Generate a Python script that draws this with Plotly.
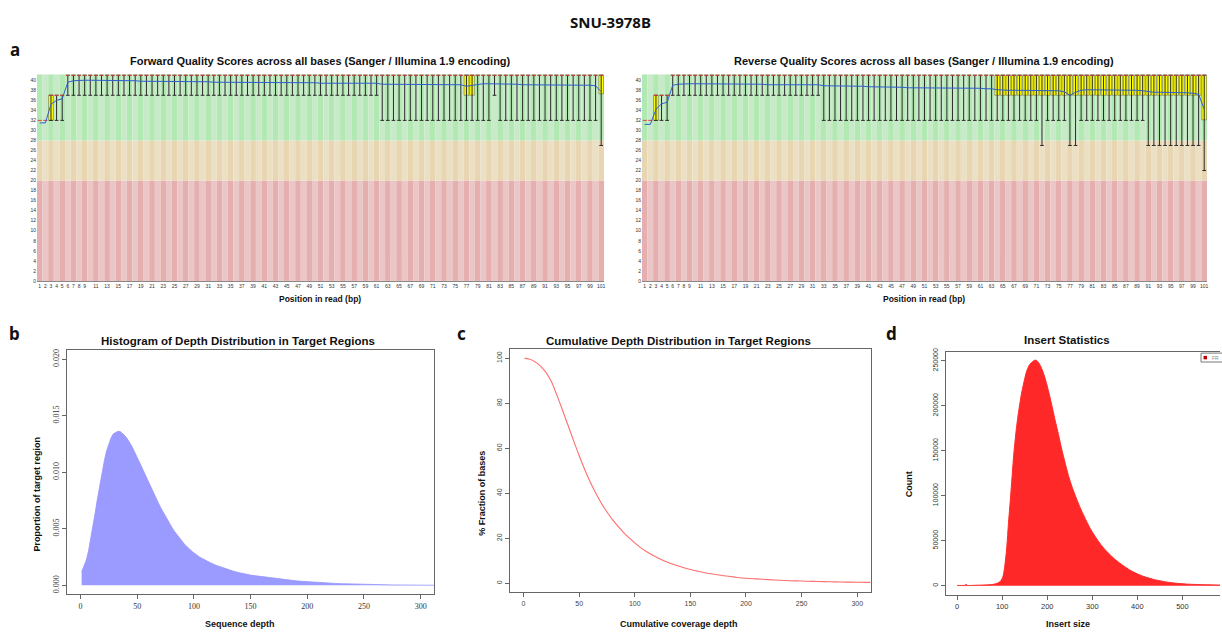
import plotly.graph_objects as go

W, H = 1222, 635

# ---------------- Panel a data (FastQC per-base quality) ----------------
positions = list(range(1, 102))
pos_tick_vals = list(range(1, 10)) + list(range(11, 102, 2))
pos_tick_text = [str(v) for v in pos_tick_vals]
quality_ticks = list(range(0, 41, 2))
zone_edges = [0, 20, 28, 41.2]

fwd_lower = [32] * 5 + [37] * 56 + [32] * 20 + [37] + [32] * 18 + [27]
fwd_upper = [32, 32] + [37] * 3 + [41] * 96
fwd_q1 = [32, 32, 32, 37, 37] + [41] * 71 + [37, 37] + [41] * 22 + [37.3]
fwd_q3 = [32, 32, 37, 37, 37] + [41] * 96
fwd_median = [32, 32, 37, 37, 37] + [41] * 96
fwd_mean = [31.5, 31.5, 35.2, 36.0, 36.3, 39.6, 39.9, 40.0, 40.0, 40.0,
            40.0, 40.0, 40.0, 39.9, 39.9, 39.9, 39.9, 39.9, 39.8, 39.8,
            39.8, 39.8, 39.8, 39.8, 39.8, 39.7, 39.7, 39.7, 39.7, 39.7,
            39.7, 39.6, 39.6, 39.6, 39.6, 39.6, 39.6, 39.6, 39.6, 39.5,
            39.5, 39.5, 39.5, 39.5, 39.5, 39.5, 39.5, 39.5, 39.5, 39.5,
            39.4, 39.4, 39.4, 39.4, 39.4, 39.4, 39.4, 39.4, 39.4, 39.4,
            39.4, 39.2, 39.2, 39.2, 39.2, 39.2, 39.2, 39.2, 39.2, 39.2,
            39.2, 39.2, 39.2, 39.2, 39.1, 39.1, 38.8, 39.0, 39.2, 39.3,
            39.3, 39.3, 39.3, 39.2, 39.2, 39.2, 39.1, 39.1, 39.1, 39.1,
            39.1, 39.1, 39.1, 39.1, 39.1, 39.1, 39.1, 39.0, 39.0, 38.9,
            37.7]

rev_lower = [32] * 5 + [37] * 27 + [32] * 39 + [27] + [32] * 4 + [27, 27] + [32] * 12 + [27] * 10 + [22]
rev_upper = [32, 32] + [37] * 3 + [41] * 96
rev_q1 = [32, 32, 32, 37, 37] + [41] * 58 + [37] * 37 + [32.1]
rev_q3 = [32, 32, 37, 37, 37] + [41] * 96
rev_median = [32, 32, 37, 37, 37] + [41] * 96
rev_mean = [31.2, 31.2, 34.2, 35.3, 35.6, 39.0, 39.2, 39.3, 39.3, 39.3,
            39.3, 39.3, 39.3, 39.3, 39.3, 39.2, 39.2, 39.2, 39.2, 39.2,
            39.2, 39.2, 39.1, 39.1, 39.1, 39.1, 39.1, 39.1, 39.1, 39.1,
            39.1, 39.1, 38.9, 38.9, 38.8, 38.8, 38.8, 38.8, 38.8, 38.8,
            38.7, 38.7, 38.7, 38.7, 38.7, 38.6, 38.6, 38.5, 38.5, 38.5,
            38.5, 38.5, 38.5, 38.5, 38.5, 38.4, 38.4, 38.4, 38.4, 38.4,
            38.4, 38.3, 38.3, 38.1, 38.0, 38.0, 38.0, 38.0, 38.0, 38.0,
            37.9, 37.9, 37.9, 37.9, 37.9, 37.7, 37.0, 37.6, 38.0, 38.1,
            38.1, 38.1, 38.1, 38.1, 38.1, 38.1, 38.0, 38.0, 38.0, 37.9,
            37.7, 37.6, 37.6, 37.6, 37.5, 37.5, 37.5, 37.5, 37.4, 37.2,
            34.2]

# ---------------- Panel b data (depth histogram) ----------------
depth_b = [1, 3, 5, 7, 9, 11, 13, 15, 17, 19, 21, 23, 25, 27, 29, 31, 33, 35, 37, 39,
           41, 43, 45, 47, 49, 51, 53, 55, 57, 59, 61, 63, 65, 67, 69, 71, 73, 75, 77, 79,
           81, 83, 85, 87, 89, 91, 93, 95, 97, 99, 105, 110, 115, 120, 125, 130, 135, 140,
           145, 150, 155, 160, 165, 170, 175, 180, 185, 190, 195, 200, 205, 210, 215, 220,
           225, 230, 235, 240, 245, 250, 255, 260, 265, 270, 275, 280, 285, 290, 295, 300,
           305, 310, 312]
prop_b = [0.00120, 0.00165, 0.00220, 0.00300, 0.00405, 0.00525, 0.00645, 0.00770, 0.00890, 0.01000,
          0.01100, 0.01190, 0.01255, 0.01305, 0.01340, 0.01355, 0.01362, 0.01360, 0.01345, 0.01325,
          0.01300, 0.01270, 0.01235, 0.01195, 0.01155, 0.01115, 0.01070, 0.01025, 0.00980, 0.00935,
          0.00890, 0.00848, 0.00805, 0.00763, 0.00722, 0.00683, 0.00645, 0.00608, 0.00572, 0.00538,
          0.00506, 0.00476, 0.00448, 0.00421, 0.00396, 0.00373, 0.00351, 0.00331, 0.00312, 0.00295,
          0.00250, 0.00222, 0.00197, 0.00176, 0.00157, 0.00140, 0.00125, 0.00112,
          0.00100, 0.00091, 0.00084, 0.00077, 0.00070, 0.00063, 0.00056, 0.00050, 0.00045, 0.00040,
          0.00036, 0.00032, 0.00028, 0.00025, 0.00022, 0.00019,
          0.00017, 0.00015, 0.00013, 0.00011, 0.00010, 0.00009, 0.00008, 0.00007, 0.00006, 0.00005,
          0.00004, 0.00004, 0.00003, 0.00003, 0.00002, 0.00002, 0.00002, 0.00001, 0.00001]
b_xticks = [0, 50, 100, 150, 200, 250, 300]
b_yticks = [0, 0.005, 0.010, 0.015, 0.020]
b_ytext = ["0.000", "0.005", "0.010", "0.015", "0.020"]

# ---------------- Panel c data (cumulative depth) ----------------
depth_c = [1, 5, 10, 15, 20, 25, 30, 35, 40, 45, 50, 55, 60, 65, 70, 75, 80, 85, 90, 95,
           100, 105, 110, 120, 130, 140, 150, 160, 170, 180, 190, 200, 210, 220, 230, 240, 250,
           260, 270, 280, 290, 300, 312]
pct_c = [100.0, 99.6, 98.5, 96.6, 93.8, 89.6, 83.6, 77.0, 70.2, 63.4, 56.8, 50.6, 45.0, 40.0,
         35.6, 31.7, 28.3, 25.3, 22.6, 20.2, 18.0, 16.0, 14.3, 11.5, 9.3, 7.6, 6.2, 5.1, 4.2, 3.4,
         2.8, 2.3, 2.0, 1.7, 1.4, 1.2, 1.05, 0.9, 0.8, 0.7, 0.6, 0.5, 0.45]
c_xticks = [0, 50, 100, 150, 200, 250, 300]
c_yticks = [0, 20, 40, 60, 80, 100]

# ---------------- Panel d data (insert size) ----------------
insert_d = [0, 10, 18, 20, 22, 40, 60, 80, 90, 95, 100, 103, 106, 110, 114, 118, 121, 125, 128,
            132, 136, 140, 143, 150, 154, 160, 165, 170, 174, 180, 188, 195, 202, 210, 217, 225,
            232, 240, 247, 255, 262, 272, 284, 295, 306, 320, 335, 350, 365, 383, 402, 420, 439,
            460, 483, 510, 530, 550, 570, 590]
count_d = [300, 300, 500, 1800, 500, 500, 800, 1500, 3000, 4500, 8000, 13000, 23000, 42000,
           70000, 95000, 115000, 142000, 158000, 177000, 192000, 205000, 214000, 230000, 238000,
           245000, 248000, 250000, 250800, 248500, 241000, 231000, 218000, 201000, 185000, 168000,
           152000, 136000, 122600, 110000, 100600, 88000, 75000, 64000, 55000, 45000, 36600,
           29500, 23700, 17500, 12700, 9300, 6600, 4500, 2900, 1800, 1400, 1100, 900, 700]
d_xticks = [0, 100, 200, 300, 400, 500]
d_yticks = [0, 50000, 100000, 150000, 200000, 250000]
d_ytext = [str(v) for v in d_yticks]
legend_label = "FR"


def px_x(px):
    return px / W


def px_y(py):
    return 1 - py / H


fig = go.Figure()

zone_dark = ["rgb(230,175,175)", "rgb(232,214,178)", "rgb(178,232,178)"]
zone_light = ["rgb(234,198,198)", "rgb(236,224,196)", "rgb(200,234,200)"]


def add_fastqc(xa, ya, lower, upper, q1, q3, median, mean):
    for k in range(3):
        colors = [zone_dark[k] if p % 2 == 1 else zone_light[k] for p in positions]
        fig.add_trace(go.Bar(x=positions, y=[zone_edges[k + 1] - zone_edges[k]] * len(positions),
                             base=[zone_edges[k]] * len(positions), width=1,
                             marker=dict(color=colors, line=dict(width=0)),
                             xaxis=xa, yaxis=ya, showlegend=False, hoverinfo="skip"))
    wx, wy = [], []
    for p, lo, up in zip(positions, lower, upper):
        if up > lo:
            wx += [p, p, None, p - 0.33, p + 0.33, None, p - 0.33, p + 0.33, None]
            wy += [lo, up, None, lo, lo, None, up, up, None]
    fig.add_trace(go.Scatter(x=wx, y=wy, mode="lines", line=dict(color="#2a2a2a", width=1),
                             xaxis=xa, yaxis=ya, showlegend=False, hoverinfo="skip"))
    bx = [p for p, a, b in zip(positions, q1, q3) if b > a]
    bb = [a for a, b in zip(q1, q3) if b > a]
    bh = [b - a for a, b in zip(q1, q3) if b > a]
    fig.add_trace(go.Bar(x=bx, y=bh, base=bb, width=0.85,
                         marker=dict(color="#ffff00", line=dict(color="#555555", width=0.5)),
                         xaxis=xa, yaxis=ya, showlegend=False, hoverinfo="skip"))
    mx, my = [], []
    for p, m in zip(positions, median):
        mx += [p - 0.36, p + 0.36, None]
        my += [m, m, None]
    fig.add_trace(go.Scatter(x=mx, y=my, mode="lines", line=dict(color="#e04040", width=1),
                             xaxis=xa, yaxis=ya, showlegend=False, hoverinfo="skip"))
    fig.add_trace(go.Scatter(x=positions, y=mean, mode="lines", line=dict(color="#2f5fd0", width=1),
                             xaxis=xa, yaxis=ya, showlegend=False, hoverinfo="skip"))


add_fastqc("x", "y", fwd_lower, fwd_upper, fwd_q1, fwd_q3, fwd_median, fwd_mean)
add_fastqc("x2", "y2", rev_lower, rev_upper, rev_q1, rev_q3, rev_median, rev_mean)

# Panel b
fig.add_trace(go.Scatter(x=depth_b, y=prop_b, mode="lines", fill="tozeroy",
                         fillcolor="rgb(155,155,255)", line=dict(color="rgb(150,150,252)", width=0.8),
                         xaxis="x3", yaxis="y3", showlegend=False))
# Panel c
fig.add_trace(go.Scatter(x=depth_c, y=pct_c, mode="lines", line=dict(color="rgb(255,110,110)", width=1.1),
                         line_shape="spline", xaxis="x4", yaxis="y4", showlegend=False))
# Panel d
fig.add_trace(go.Scatter(x=insert_d, y=count_d, mode="lines", fill="tozeroy", line_shape="spline",
                         fillcolor="rgb(255,40,40)", line=dict(color="rgb(255,45,45)", width=1),
                         xaxis="x5", yaxis="y5", showlegend=False))

fq_font = dict(family="Liberation Sans", size=5, color="#333")
fq_x = dict(range=[0.5, 101.5], tickvals=pos_tick_vals, ticktext=pos_tick_text, tickangle=0,
            tickfont=fq_font, showgrid=False, zeroline=False, showline=True, linecolor="#888",
            linewidth=1, ticks="", fixedrange=True)
fq_y = dict(range=[0, 41.2], tickvals=quality_ticks, tickfont=fq_font, showgrid=False,
            zeroline=False, showline=False, ticks="", fixedrange=True)

r_line = dict(showline=True, mirror=True, linecolor="#666", linewidth=1, ticks="outside",
              ticklen=4, tickcolor="#666", showgrid=False, zeroline=False)

fig.update_layout(
    width=W, height=H, margin=dict(l=0, r=0, t=0, b=0),
    paper_bgcolor="white", plot_bgcolor="white", barmode="overlay", showlegend=False,
    xaxis=dict(domain=[px_x(37), px_x(605)], anchor="y", **fq_x),
    yaxis=dict(domain=[px_y(280), px_y(71)], anchor="x", **fq_y),
    xaxis2=dict(domain=[px_x(643), px_x(1209)], anchor="y2", **fq_x),
    yaxis2=dict(domain=[px_y(280), px_y(71)], anchor="x2", **fq_y),
    xaxis3=dict(domain=[px_x(67), px_x(435)], anchor="y3", range=[-12, 312], tickvals=b_xticks,
                tickfont=dict(family="Liberation Serif", size=8, color="#333"), **r_line),
    yaxis3=dict(domain=[px_y(597), px_y(350)], anchor="x3", range=[-0.0008, 0.0208],
                tickvals=b_yticks, ticktext=b_ytext, tickangle=-90,
                tickfont=dict(family="Liberation Serif", size=8, color="#333"), **r_line),
    xaxis4=dict(domain=[px_x(511), px_x(872)], anchor="y4", range=[-12, 312], tickvals=c_xticks,
                tickfont=dict(family="Liberation Sans", size=7, color="#444"), **r_line),
    yaxis4=dict(domain=[px_y(595), px_y(349)], anchor="x4", range=[-4, 104], tickvals=c_yticks,
                tickangle=-90, tickfont=dict(family="Liberation Sans", size=7, color="#444"), **r_line),
    xaxis5=dict(domain=[px_x(947.7), 1.0], anchor="y5", range=[-24.4, 583.5], tickvals=d_xticks,
                tickfont=dict(family="Liberation Sans", size=7.5, color="#333"), **r_line),
    yaxis5=dict(domain=[px_y(597.3), px_y(351.7)], anchor="x5", range=[-10000, 260000],
                tickvals=d_yticks, ticktext=d_ytext, tickangle=-90,
                tickfont=dict(family="Liberation Sans", size=7, color="#333"),
                showline=True, mirror=False, linecolor="#666", linewidth=1, ticks="outside",
                ticklen=4, tickcolor="#666", showgrid=False, zeroline=False),
)


def ann(text, x, y, size, bold=True, angle=0, color="#111", family="Liberation Sans", **kw):
    t = "<b>%s</b>" % text if bold else text
    fig.add_annotation(text=t, x=px_x(x), y=px_y(y), xref="paper", yref="paper",
                       showarrow=False, textangle=angle, xanchor="center", yanchor="middle",
                       font=dict(family=family, size=size, color=color), **kw)


ann("SNU-3978B", 611, 18, 15, family="Noto Sans")
ann("a", 15, 46, 17, family="Noto Sans")
ann("b", 15, 333, 17, family="Noto Sans")
ann("c", 462, 333, 17, family="Noto Sans")
ann("d", 893, 333, 17, family="Noto Sans")
ann("Forward Quality Scores across all bases (Sanger / Illumina 1.9 encoding)", 321, 58, 11)
ann("Reverse Quality Scores across all bases (Sanger / Illumina 1.9 encoding)", 926, 58, 11)
ann("Position in read (bp)", 321, 298, 8.5)
ann("Position in read (bp)", 926, 298, 8.5)
ann("Histogram of Depth Distribution in Target Regions", 238.5, 341, 11.5)
ann("Cumulative Depth Distribution in Target Regions", 680, 341, 11.5)
ann("Insert Statistics", 1069, 340, 11.5)
ann("Sequence depth", 240, 627, 9)
ann("Proportion of target region", 37, 495, 9, angle=-90)
ann("Cumulative coverage depth", 680, 627, 9)
ann("% Fraction of bases", 482, 495, 9, angle=-90)
ann("Insert size", 1070, 627, 9)
ann("Count", 910, 486, 9, angle=-90)

# legend box of panel d (cut by the right edge, as in the source)
fig.add_shape(type="rect", xref="paper", yref="paper", x0=px_x(1203), x1=px_x(1240),
              y0=px_y(362), y1=px_y(353), line=dict(color="#777", width=1), fillcolor="white")
fig.add_shape(type="rect", xref="paper", yref="paper", x0=px_x(1205.5), x1=px_x(1209),
              y0=px_y(359.3), y1=px_y(355.8), line=dict(width=0), fillcolor="#c00000")
fig.add_annotation(text=legend_label, x=px_x(1212), y=px_y(357.6), xref="paper", yref="paper",
                   showarrow=False, xanchor="left", yanchor="middle",
                   font=dict(family="Liberation Sans", size=5, color="#888"))

fig.write_html("out.html", config={"displayModeBar": False},
               post_script="document.body.style.margin='0';document.body.style.overflow='hidden';")
